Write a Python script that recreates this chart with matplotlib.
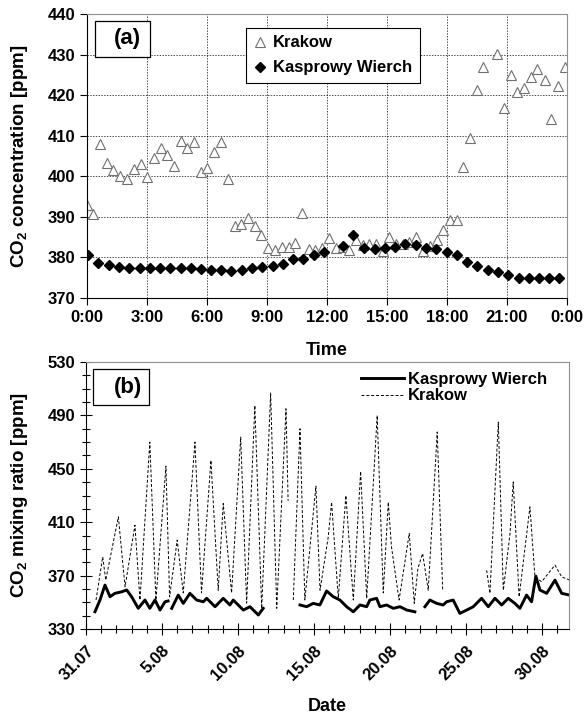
import matplotlib
matplotlib.use("Agg")
import matplotlib.pyplot as plt
import numpy as np
from matplotlib.lines import Line2D
from matplotlib.patches import Rectangle

plt.rcParams['font.family'] = ['Liberation Sans', 'DejaVu Sans']
plt.rcParams['font.weight'] = 'bold'
plt.rcParams['mathtext.fontset'] = 'custom'
plt.rcParams['mathtext.rm'] = 'Liberation Sans'
plt.rcParams['mathtext.bf'] = 'Liberation Sans:bold'

# (a) mean diurnal cycle, hours of day
krk_hours = [0.00, 0.32, 0.65, 0.98, 1.32, 1.65, 1.98, 2.35, 2.68, 3.02, 3.35, 3.68,
             4.02, 4.35, 4.68, 5.02, 5.35, 5.68, 6.02, 6.35, 6.72, 7.05, 7.38, 7.72,
             8.05, 8.38, 8.72, 9.05, 9.42, 9.75, 10.08, 10.42, 10.75, 11.08, 11.42, 11.75,
             12.12, 12.45, 12.78, 13.12, 13.45, 13.78, 14.12, 14.45, 14.78, 15.12, 15.45, 15.78,
             16.12, 16.45, 16.82, 17.15, 17.48, 17.82, 18.15, 18.48, 18.82, 19.15, 19.48, 19.82,
             20.48, 20.85, 21.18, 21.52, 21.85, 22.18, 22.52, 22.88, 23.22, 23.55, 23.88]
krk_co2 = [392.8, 390.8, 408.0, 403.2, 401.6, 400.1, 399.3, 401.9, 402.9, 399.7, 404.4, 406.9,
           405.3, 402.5, 408.6, 407.0, 408.5, 401.0, 402.0, 406.0, 408.4, 399.3, 387.8, 388.3,
           389.7, 387.8, 385.5, 382.3, 381.8, 382.6, 382.6, 383.6, 390.9, 382.1, 381.8, 382.4,
           384.9, 382.4, 382.6, 381.9, 384.2, 383.1, 383.2, 383.2, 381.6, 385.1, 383.2, 383.2,
           383.9, 385.1, 381.6, 382.8, 384.2, 386.7, 389.2, 389.2, 402.4, 409.4, 421.2, 427.0,
           430.1, 416.8, 424.9, 420.8, 421.8, 424.5, 426.4, 423.7, 414.2, 422.2, 426.8]

kw_hours = [0.07, 0.57, 1.12, 1.62, 2.12, 2.65, 3.15, 3.65, 4.15, 4.68, 5.18, 5.68,
            6.22, 6.72, 7.22, 7.75, 8.25, 8.75, 9.28, 9.78, 10.28, 10.82, 11.35, 11.85,
            12.82, 13.32, 13.87, 14.40, 14.92, 15.42, 15.92, 16.45, 16.95, 17.45, 17.98, 18.48,
            19.02, 19.52, 20.05, 20.55, 21.05, 21.58, 22.08, 22.58, 23.08, 23.58]
kw_co2 = [380.6, 378.7, 378.1, 377.7, 377.5, 377.4, 377.4, 377.4, 377.4, 377.4, 377.5, 377.2,
          377.0, 376.8, 376.6, 377.0, 377.3, 377.7, 377.9, 378.3, 379.5, 379.7, 380.6, 381.4,
          382.8, 385.5, 382.4, 382.0, 382.2, 382.6, 383.4, 383.0, 382.4, 382.0, 381.4, 380.6,
          378.9, 377.9, 376.8, 376.3, 375.6, 375.0, 375.0, 375.0, 374.8, 374.8]

# (b) time series, days since 31.07 00:00 (nan = gap)
krk_days = [0.66, 1.10, 1.30, 2.13, 2.40, 2.57, 3.22, 3.55, 4.20, 4.60, 5.26, 5.50,
            6.00, 6.40, 7.17, 7.60, 8.22, 8.70, 9.03, 9.58, 10.18, 10.57, 11.11, 11.56,
            12.15, 12.55, 13.16, 13.30, 13.45, 13.64, 14.08, 14.40, 15.13, 15.40, 15.94, 16.16,
            16.60, 17.10, 17.59, 18.07, 18.47, 19.16, 19.56, 19.89, 20.10, 20.60, 21.27, 21.60,
            21.84, 22.15, 22.52, 23.11, 23.47, 23.50, 26.36, 26.58, 27.13, 27.46, 27.90, 28.11,
            28.50, 29.21, 29.54, 29.98, 30.86, 31.30, 31.84]
krk_ts = [351.7, 384.0, 366.6, 414.0, 381.6, 361.6, 407.8, 351.7, 470.0, 351.7, 452.0, 354.0,
          396.6, 357.0, 470.0, 357.0, 456.4, 359.0, 424.0, 357.0, 473.8, 349.4, 497.5, 345.5,
          506.8, 345.5, 495.0, 426.0, np.nan, 351.7, 480.0, 351.7, 437.0, 359.0, 399.0, 425.0,
          353.0, 430.0, 351.7, 448.0, 353.0, 490.0, 357.0, 425.0, 391.6, 351.7, 401.6, 349.2,
          375.4, 386.6, 359.0, 477.6, 359.0, np.nan, 374.0, 356.7, 485.0, 359.0, 401.6, 440.2,
          354.0, 421.5, 369.0, 365.4, 377.9, 369.0, 366.6]

kw_days = [0.59, 0.92, 1.25, 1.58, 1.90, 2.35, 2.68, 3.00, 3.44, 3.88, 4.20, 4.54,
           4.87, 5.20, 5.40, 5.52, 5.64, 6.07, 6.40, 6.84, 7.28, 7.72, 7.94, 8.49,
           9.03, 9.47, 9.69, 10.35, 10.79, 11.34, 11.66, 12.50, 14.08, 14.52, 14.95, 15.39,
           15.83, 16.27, 16.71, 17.15, 17.59, 18.03, 18.47, 18.68, 19.12, 19.34, 19.78, 20.22,
           20.66, 21.10, 21.64, 21.90, 22.30, 22.63, 23.07, 23.50, 23.73, 24.16, 24.60, 25.05,
           25.48, 26.03, 26.47, 26.91, 27.35, 27.78, 28.22, 28.55, 28.99, 29.32, 29.60, 29.87,
           30.31, 30.86, 31.30, 31.84]
kw_ts = [342.9, 351.7, 362.9, 354.2, 356.7, 357.9, 359.2, 354.2, 345.5, 351.7, 345.5, 351.7,
         344.2, 350.4, 351.0, np.nan, 345.5, 355.4, 349.2, 356.7, 351.7, 350.4, 353.0, 346.7,
         353.0, 348.0, 351.7, 344.2, 346.7, 340.5, 345.5, np.nan, 348.0, 346.7, 349.2, 348.0,
         358.5, 354.2, 351.7, 346.7, 342.9, 348.0, 346.7, 351.7, 353.0, 346.7, 348.0, 345.5,
         346.7, 344.2, 342.9, np.nan, 346.7, 351.7, 349.2, 348.0, 350.4, 351.7, 341.7, 344.2,
         346.7, 353.0, 346.7, 353.0, 348.0, 353.0, 349.2, 345.5, 355.4, 350.4, 369.6, 359.2,
         356.7, 366.6, 356.7, 355.4]

time_labels = ['0:00', '3:00', '6:00', '9:00', '12:00', '15:00', '18:00', '21:00', '0:00']
date_labels = ['31.07', '5.08', '10.08', '15.08', '20.08', '25.08', '30.08']

fig = plt.figure(figsize=(5.87, 7.22), dpi=100)

# ---------- panel (a)
ax1 = fig.add_axes([0.1482, 0.5873, 0.8177, 0.3934])
ax1.plot(krk_hours, krk_co2, linestyle='none', marker='^', markersize=6.5,
         markerfacecolor='white', markeredgecolor='#707070', markeredgewidth=0.8)
ax1.plot(kw_hours, kw_co2, linestyle='none', marker='D', markersize=4.8,
         color='black')
ax1.set_xlim(0, 24)
ax1.set_ylim(370, 440)
ax1.set_xticks(np.arange(0, 25, 3))
ax1.set_xticklabels(time_labels)
ax1.set_yticks(np.arange(370, 441, 10))
ax1.grid(True, color='black', linestyle=(0, (2, 2)), linewidth=0.5)
ax1.tick_params(labelsize=12, length=5, width=0.8, direction='out')
for s in ['top', 'right']:
    ax1.spines[s].set_color('#909090')
ax1.set_xlabel('Time', fontsize=13, fontweight='bold')
ax1.xaxis.set_label_coords(0.5, -0.155)
ax1.set_ylabel(r'CO$_\mathbf{2}$ concentration [ppm]', fontsize=13.5, fontweight='bold')
ax1.yaxis.set_label_coords(-0.118, 0.5)

handles = [Line2D([], [], linestyle='none', marker='^', markersize=6.5,
                  markerfacecolor='white', markeredgecolor='#707070', markeredgewidth=0.8),
           Line2D([], [], linestyle='none', marker='D', markersize=4.8, color='black')]
leg = ax1.legend(handles, ['Krakow', 'Kasprowy Wierch'], loc='upper left',
                 bbox_to_anchor=(0.331, 0.951), borderaxespad=0, fancybox=False,
                 framealpha=1, edgecolor='black', handlelength=0.8, handletextpad=0.4,
                 prop={'size': 12, 'weight': 'bold'}, labelspacing=0.6, borderpad=0.45)
leg.get_frame().set_linewidth(0.8)

ax1.add_patch(Rectangle((0.017, 0.849), 0.114, 0.126, transform=ax1.transAxes,
                        facecolor='white', edgecolor='black', linewidth=0.9, zorder=5))
ax1.text(0.084, 0.912, '(a)', transform=ax1.transAxes, fontsize=16,
         fontweight='bold', ha='center', va='center', zorder=6)

# ---------- panel (b)
ax2 = fig.add_axes([0.1465, 0.1288, 0.8228, 0.3698])
ax2.plot(kw_days, kw_ts, color='black', linewidth=2.1, label='Kasprowy Wierch')
ax2.plot(krk_days, krk_ts, color='black', linewidth=0.7,
         linestyle=(0, (3, 2)), label='Krakow')
ax2.set_xlim(0, 31.78)
ax2.set_ylim(330, 530)
ax2.set_yticks(np.arange(330, 531, 40))
ax2.set_yticks(np.arange(330, 531, 10), minor=True)
ax2.set_xticks(np.arange(0, 31, 5))
ax2.set_xticklabels(date_labels, rotation=45, ha='right', rotation_mode='anchor')
ax2.set_xticks(np.arange(0, 32, 1), minor=True)
ax2.tick_params(which='major', labelsize=12, length=8, width=0.8, direction='inout')
ax2.tick_params(which='minor', length=6, width=0.8, direction='inout')
ax2.tick_params(axis='x', which='major', pad=6)
for s in ['top', 'right']:
    ax2.spines[s].set_color('#909090')
ax2.set_xlabel('Date', fontsize=13, fontweight='bold')
ax2.xaxis.set_label_coords(0.5, -0.258)
ax2.set_ylabel(r'CO$_\mathbf{2}$ mixing ratio [ppm]', fontsize=13.5, fontweight='bold')
ax2.yaxis.set_label_coords(-0.116, 0.5)
ax2.legend(loc='upper right', frameon=False, handlelength=2.6, handletextpad=0.2,
           prop={'size': 12, 'weight': 'bold'}, labelspacing=0.1,
           bbox_to_anchor=(0.985, 1.02))

ax2.add_patch(Rectangle((0.0145, 0.839), 0.1155, 0.135, transform=ax2.transAxes,
                        facecolor='white', edgecolor='black', linewidth=0.9, zorder=5))
ax2.text(0.086, 0.906, '(b)', transform=ax2.transAxes, fontsize=16,
         fontweight='bold', ha='center', va='center', zorder=6)

fig.savefig('out.png', dpi=100)
